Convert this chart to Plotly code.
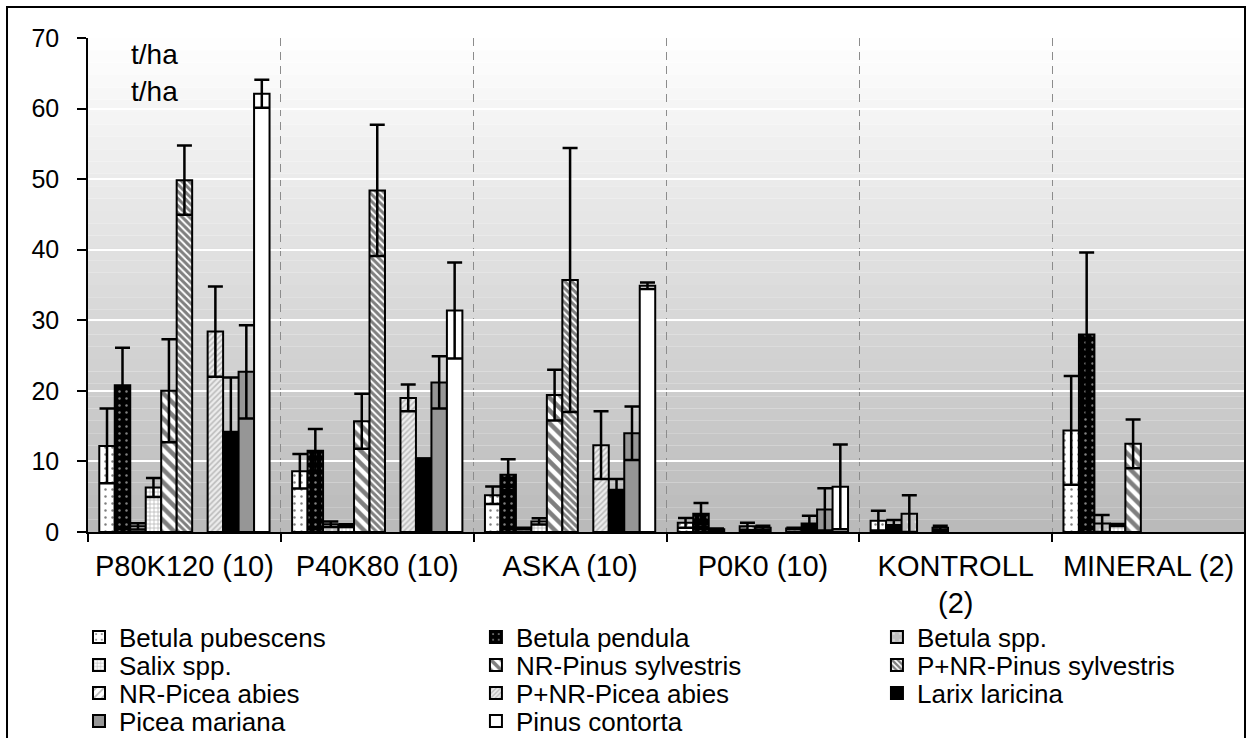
import plotly.graph_objects as go

# Treatment groups (x categories)
categories = ["P80K120 (10)", "P40K80 (10)", "ASKA (10)", "P0K0 (10)",
              "KONTROLL<br>(2)", "MINERAL (2)"]

# Species (series) names
species = ["Betula pubescens", "Betula pendula", "Betula spp.", "Salix spp.",
           "NR-Pinus sylvestris", "P+NR-Pinus sylvestris", "NR-Picea abies",
           "P+NR-Picea abies", "Larix laricina", "Picea mariana", "Pinus contorta"]

# Biomass, t/ha (None = species not present)
betula_pubescens = [12.2, 8.6, 5.2, 1.3, 1.6, 14.4]
betula_pendula = [20.8, 11.5, 8.1, 2.6, 1.0, 28.0]
betula_spp = [0.8, 1.1, 0.5, 0.4, 2.6, 1.2]
salix_spp = [6.3, 0.9, 1.5, None, None, 1.0]
nr_pinus = [20.0, 15.7, 19.4, 0.8, 0.6, 12.5]
pnr_pinus = [49.85, 48.4, 35.7, 0.6, None, None]
nr_picea = [None, None, None, None, None, None]
pnr_picea = [28.4, 19.0, 12.3, 0.5, None, None]
larix = [14.2, 10.4, 6.0, 1.2, None, None]
picea_mariana = [22.7, 21.2, 14.0, 3.2, None, None]
pinus_contorta = [62.1, 31.4, 34.9, 6.4, None, None]

# Error bar half-lengths, t/ha
err_betula_pubescens = [5.3, 2.45, 1.25, 0.7, 1.4, 7.7]
err_betula_pendula = [5.3, 3.1, 2.2, 1.5, 0.7, 11.6]
err_betula_spp = [0.45, 0.4, 0.1, 0.1, 2.6, 1.2]
err_salix_spp = [1.35, 0.2, 0.45, 0, 0, 0.15]
err_nr_pinus = [7.3, 3.9, 3.6, 0.5, 0.3, 3.45]
err_pnr_pinus = [4.9, 9.3, 18.7, 0.3, 0, 0]
err_nr_picea = [0, 0, 0, 0, 0, 0]
err_pnr_picea = [6.4, 1.9, 4.8, 0.1, 0, 0]
err_larix = [7.7, 0, 1.5, 1.1, 0, 0]
err_picea_mariana = [6.6, 3.7, 3.8, 3.0, 0, 0]
err_pinus_contorta = [2.0, 6.8, 0.45, 6.0, 0, 0]

y_ticks = [0, 10, 20, 30, 40, 50, 60, 70]
unit_label = "t/ha"

values = [betula_pubescens, betula_pendula, betula_spp, salix_spp, nr_pinus,
          pnr_pinus, nr_picea, pnr_picea, larix, picea_mariana, pinus_contorta]
errors = [err_betula_pubescens, err_betula_pendula, err_betula_spp, err_salix_spp,
          err_nr_pinus, err_pnr_pinus, err_nr_picea, err_pnr_picea, err_larix,
          err_picea_mariana, err_pinus_contorta]

# Fill pattern / colour per species (black-and-white print style)
fills = [
    dict(color="white", pattern=dict(shape=".", fgcolor="black", bgcolor="white", size=7, solidity=0.1)),
    dict(color="black", pattern=dict(shape=".", fgcolor="white", bgcolor="black", size=7, solidity=0.1)),
    dict(color="#c0c0c0", pattern=dict(shape=".", fgcolor="white", bgcolor="#c0c0c0", size=8, solidity=0.1)),
    dict(color="white", pattern=dict(shape="+", fgcolor="#555555", bgcolor="white", size=4, solidity=0.3)),
    dict(color="white", pattern=dict(shape="\\", fgcolor="black", bgcolor="white", size=9, solidity=0.5)),
    dict(color="white", pattern=dict(shape="\\", fgcolor="black", bgcolor="white", size=5, solidity=0.6)),
    dict(color="white", pattern=dict(shape="/", fgcolor="#777777", bgcolor="white", size=7, solidity=0.3)),
    dict(color="#d8d8d8", pattern=dict(shape="/", fgcolor="#8a8a8a", bgcolor="#ececec", size=4, solidity=0.4)),
    dict(color="black"),
    dict(color="#969696"),
    dict(color="white"),
]

FONT = "Liberation Sans, Arial, sans-serif"
LEGEND_FONT = 26

# Legend grid: three columns, four rows (one single-entry legend per species)
col_x = [-0.0078, 0.3353, 0.6819]
row_y = [-0.2126, -0.2692, -0.3259, -0.3826]

fig = go.Figure()
legend_layouts = {}
for k, (name, vals, errs, fill) in enumerate(zip(species, values, errors, fills)):
    legend_id = "legend" if k == 0 else f"legend{k + 1}"
    marker = dict(line=dict(color="black", width=2), **fill)
    fig.add_trace(go.Bar(
        name=name, x=categories, y=vals, marker=marker, legend=legend_id,
        error_y=dict(type="data", array=errs, symmetric=True, visible=True,
                     color="black", thickness=2.5, width=7.5),
    ))
    legend_layouts[legend_id] = dict(
        x=col_x[k % 3], xanchor="left", y=row_y[k // 3], yanchor="middle",
        orientation="v", bgcolor="rgba(0,0,0,0)", borderwidth=0,
        font=dict(family=FONT, size=LEGEND_FONT, color="black"),
    )

# Vertical background gradient of the plot area (white at top, grey at bottom)
n_bands = 40
shapes = []
for i in range(n_bands):
    t = (i + 0.5) / n_bands
    g = int(round(185 + (255 - 185) * t))
    shapes.append(dict(type="rect", xref="paper", yref="paper",
                       x0=0, x1=1, y0=i / n_bands, y1=(i + 1) / n_bands,
                       fillcolor=f"rgb({g},{g},{g})", line=dict(width=0),
                       layer="below"))
# Outer chart frame
shapes.append(dict(type="rect", xref="paper", yref="paper",
                   x0=-0.070, x1=1.0, y0=-0.6, y1=1.063,
                   line=dict(color="black", width=2), fillcolor="rgba(0,0,0,0)",
                   layer="above"))

fig.update_layout(
    width=1246, height=738,
    margin=dict(l=88, r=1, t=38, b=206, autoexpand=False),
    paper_bgcolor="white", plot_bgcolor="white",
    barmode="group", bargap=0.117, bargroupgap=0,
    font=dict(family=FONT, color="black", size=24),
    shapes=shapes,
    showlegend=True,
    annotations=[
        dict(text=unit_label, xref="paper", yref="paper", x=0.0354, y=0.9656,
             xanchor="left", yanchor="middle", showarrow=False,
             font=dict(family=FONT, size=28, color="black")),
        dict(text=unit_label, xref="paper", yref="paper", x=0.0354, y=0.8907,
             xanchor="left", yanchor="middle", showarrow=False,
             font=dict(family=FONT, size=28, color="black")),
    ],
    **legend_layouts,
)

fig.update_xaxes(
    type="category", categoryorder="array", categoryarray=categories,
    tickson="boundaries", ticks="outside", ticklen=8, tickwidth=1.5, tickcolor="black",
    showline=True, linecolor="black", linewidth=1.5,
    showgrid=True, gridcolor="#8c8c8c", gridwidth=1, griddash="8px,6px",
    tickfont=dict(family=FONT, size=29, color="black"),
    ticklabelstandoff=7,
)
fig.update_yaxes(
    range=[0, 70], tickvals=y_ticks, ticks="outside", ticklen=9, tickwidth=1.5,
    tickcolor="black", showline=True, linecolor="black", linewidth=1.5,
    showgrid=True, gridcolor="white", gridwidth=1.5, zeroline=False,
    tickfont=dict(family=FONT, size=25, color="black"),
    ticklabelstandoff=13,
)

fig.write_html("out.html")
